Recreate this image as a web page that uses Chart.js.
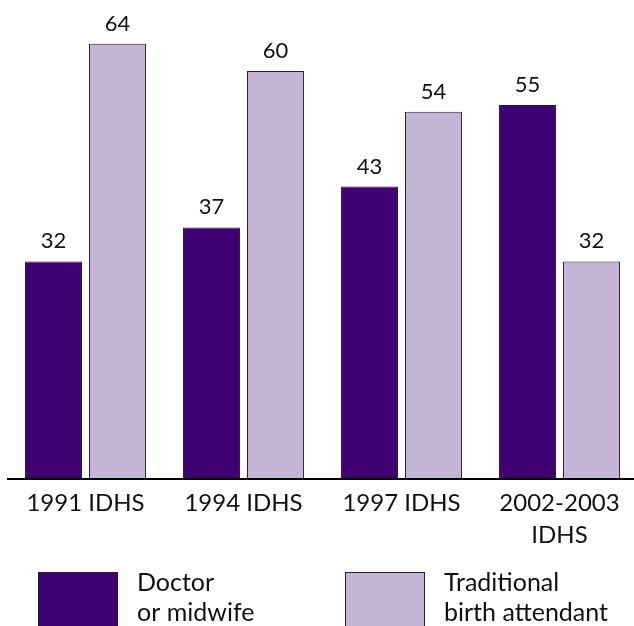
<!DOCTYPE html>
<html>
<head>
<meta charset="utf-8">
<script src="https://cdn.jsdelivr.net/npm/chart.js@4/dist/chart.umd.min.js"></script>
<style>
  html, body { margin: 0; padding: 0; background: #fff; overflow: hidden; }
  #wrap { width: 640px; height: 626px; position: relative; }
</style>
</head>
<body>
<div id="wrap"><canvas id="chart"></canvas></div>
<script>
const categories = [["1991 IDHS"], ["1994 IDHS"], ["1997 IDHS"], ["2002-2003", "IDHS"]];
const doctorValues = [32, 37, 43, 55];
const traditionalValues = [64, 60, 54, 32];
const seriesNames = [["Doctor", "or midwife"], ["Traditional", "birth attendant"]];
const seriesColors = ["#3f0071", "#c4b4d6"];

const FONT = "Lato, 'Open Sans', sans-serif";

// numbers over each bar
const valueLabels = {
    id: "valueLabels",
    afterDatasetsDraw(chart) {
        const ctx = chart.ctx;
        ctx.save();
        ctx.font = "22px " + FONT;
        ctx.fillStyle = "#111";
        ctx.textAlign = "center";
        ctx.textBaseline = "alphabetic";
        chart.data.datasets.forEach((ds, i) => {
            chart.getDatasetMeta(i).data.forEach((bar, j) => {
                ctx.fillText(ds.data[j], bar.x, bar.y - 13);
            });
        });
        ctx.restore();
    }
};

// legend with big swatches and two line labels
const bigLegend = {
    id: "bigLegend",
    afterDraw(chart) {
        const ctx = chart.ctx;
        const starts = [38, 345];
        ctx.save();
        chart.data.datasets.forEach((ds, i) => {
            const x = starts[i];
            ctx.fillStyle = ds.backgroundColor;
            ctx.fillRect(x, 572, 80, 60);
            ctx.strokeStyle = "#222";
            ctx.lineWidth = 1;
            ctx.strokeRect(x + 0.5, 572.5, 79, 60);
            ctx.fillStyle = "#111";
            ctx.font = "25px " + FONT;
            ctx.textAlign = "left";
            ctx.textBaseline = "middle";
            ds.label.forEach((line, k) => {
                ctx.fillText(line, x + 99, 583 + k * 30);
            });
        });
        // axis line runs past the plot edges
        const y = chart.scales.y.getPixelForValue(0);
        ctx.strokeStyle = "#000";
        ctx.lineWidth = 2;
        ctx.beginPath();
        ctx.moveTo(7, y);
        ctx.lineTo(640, y);
        ctx.stroke();
        ctx.restore();
    }
};

new Chart(document.getElementById("chart"), {
    type: "bar",
    data: {
        labels: categories,
        datasets: [
            { label: seriesNames[0], data: doctorValues, backgroundColor: seriesColors[0] },
            { label: seriesNames[1], data: traditionalValues, backgroundColor: seriesColors[1] }
        ]
    },
    options: {
        responsive: true,
        maintainAspectRatio: false,
        animation: false,
        layout: { padding: { left: 6.5, right: 1.5, top: 3, bottom: 67 } },
        datasets: {
            bar: {
                categoryPercentage: 0.81,
                barPercentage: 0.89,
                borderColor: "#222",
                borderWidth: 1,
                borderSkipped: false
            }
        },
        scales: {
            x: {
                grid: { display: false, drawTicks: false },
                border: { display: false },
                ticks: {
                    color: "#111",
                    padding: 8,
                    maxRotation: 0,
                    autoSkip: false,
                    font: { size: 24, family: FONT, lineHeight: 1.333 }
                }
            },
            y: {
                display: false,
                min: 0,
                max: 70
            }
        },
        plugins: {
            legend: { display: false },
            tooltip: { enabled: false }
        }
    },
    plugins: [valueLabels, bigLegend]
});
</script>
</body>
</html>
